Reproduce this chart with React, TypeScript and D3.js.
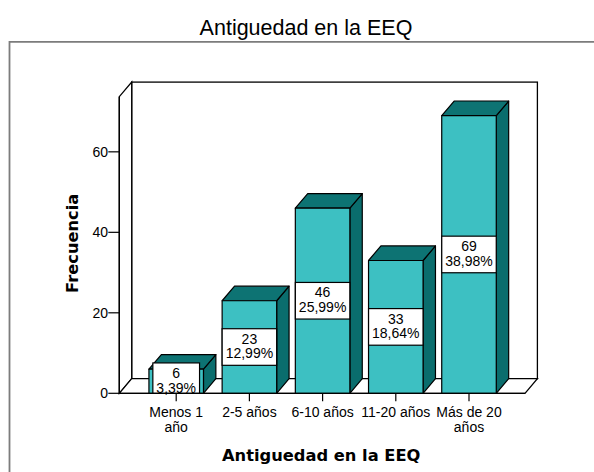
import React from "react";
import * as d3 from "d3";

// Frequency table: years of service in the EEQ
const categories = ["Menos 1 año", "2-5 años", "6-10 años", "11-20 años", "Más de 20 años"];
const categoryLines = [["Menos 1", "año"], ["2-5 años"], ["6-10 años"], ["11-20 años"], ["Más de 20", "años"]];
const counts = [6, 23, 46, 33, 69];
const yTicks = [0, 20, 40, 60];
const yMax = 73.7;

const W = 594;
const H = 472;
// depth offset of the pseudo-3D box
const DX = 12.4;
const DY = 14.6;
const plot = { left: 119.3, right: 525, top: 96.7, bottom: 393.3 };

const FRONT = "#3dc0c2";
const TOP = "#0d7373";
const SIDE = "#0a6d6d";
const LABEL_FONT = "14px 'Liberation Sans', Arial, sans-serif";

let measureCtx: CanvasRenderingContext2D | null = null;
function textWidth(s: string, font: string): number {
  if (!measureCtx) {
    const c = document.createElement("canvas");
    measureCtx = c.getContext("2d");
  }
  if (!measureCtx) return s.length * 7.5;
  measureCtx.font = font;
  return measureCtx.measureText(s).width;
}

export default function App() {
  const total = d3.sum(counts);
  const x = d3.scaleBand<string>().domain(categories).range([139.6, 505.6]);
  const y = d3.scaleLinear().domain([0, yMax]).range([plot.bottom, plot.top]);
  const barW = x.bandwidth() * 0.745;
  const pct = (v: number) => d3.format(".2f")((v / total) * 100).replace(".", ",") + "%";
  const y0 = y(0);

  const sans = "'Liberation Sans', Arial, sans-serif";
  const wide = "'DejaVu Sans', Verdana, sans-serif";

  return (
    <svg
      width={W}
      height={H}
      viewBox={`0 0 ${W} ${H}`}
      style={{ position: "absolute", left: 0, top: 0, background: "#fff" }}
    >
      {/* chart title */}
      <text x={306} y={35} textAnchor="middle" fontFamily={sans} fontSize={21.5} fill="#000">
        Antiguedad en la EEQ
      </text>

      {/* outer frame */}
      <path d={`M9.5,${H} V41.8 H${W}`} fill="none" stroke="#7c7c7c" strokeWidth={1.8} />

      {/* back wall */}
      <rect
        x={plot.left + DX}
        y={plot.top - DY}
        width={plot.right - plot.left}
        height={plot.bottom - plot.top}
        fill="#fff"
        stroke="#000"
        strokeWidth={1.3}
      />
      {/* left wall */}
      <path
        d={`M${plot.left},${plot.bottom} V${plot.top} L${plot.left + DX},${plot.top - DY} V${plot.bottom - DY} Z`}
        fill="#fff"
        stroke="#000"
        strokeWidth={1.3}
      />
      {/* floor */}
      <path
        d={`M${plot.left},${plot.bottom} H${plot.right} L${plot.right + DX},${plot.bottom - DY} H${plot.left + DX} Z`}
        fill="#fff"
        stroke="#000"
        strokeWidth={1.3}
      />

      {/* y axis ticks */}
      {yTicks.map((t) => (
        <g key={t}>
          <line x1={108.3} x2={plot.left} y1={y(t)} y2={y(t)} stroke="#000" strokeWidth={1.2} />
          <text x={108} y={y(t) + 5} textAnchor="end" fontFamily={sans} fontSize={14} fill="#000">
            {t}
          </text>
        </g>
      ))}

      {/* bars */}
      {categories.map((c, i) => {
        const cx = (x(c) ?? 0) + x.bandwidth() / 2;
        const x0 = cx - barW / 2;
        const x1 = cx + barW / 2;
        const yt = y(counts[i]);
        return (
          <g key={c} stroke="#000" strokeWidth={1.2} strokeLinejoin="round">
            <path
              d={`M${x1},${yt} L${x1 + DX},${yt - DY} V${y0 - DY} L${x1},${y0} Z`}
              fill={SIDE}
            />
            <path
              d={`M${x0},${yt} L${x0 + DX},${yt - DY} H${x1 + DX} L${x1},${yt} Z`}
              fill={TOP}
            />
            <rect x={x0} y={yt} width={barW} height={y0 - yt} fill={FRONT} />
          </g>
        );
      })}

      {/* value labels */}
      {categories.map((c, i) => {
        const cx = (x(c) ?? 0) + x.bandwidth() / 2;
        const cy = y(counts[i] / 2);
        const l1 = String(counts[i]);
        const l2 = pct(counts[i]);
        const bw = Math.max(textWidth(l1, LABEL_FONT), textWidth(l2, LABEL_FONT)) + 7;
        const top = cy - 18.3;
        const bottom = Math.min(cy + 18.3, y0);
        return (
          <g key={c}>
            <rect
              x={cx - bw / 2}
              y={top}
              width={bw}
              height={bottom - top}
              fill="#fff"
              stroke="#000"
              strokeWidth={1.2}
            />
            <text x={cx} y={cy - 3.3} textAnchor="middle" fontFamily={sans} fontSize={14} fill="#000">
              {l1}
            </text>
            <text x={cx} y={cy + 11.4} textAnchor="middle" fontFamily={sans} fontSize={14} fill="#000">
              {l2}
            </text>
          </g>
        );
      })}

      {/* front axis lines */}
      <line x1={plot.left} x2={plot.left} y1={plot.top} y2={plot.bottom} stroke="#000" strokeWidth={1.3} />
      <line x1={plot.left} x2={plot.right} y1={y0} y2={y0} stroke="#000" strokeWidth={1.3} />

      {/* category ticks and labels */}
      {categories.map((c, i) => {
        const cx = (x(c) ?? 0) + x.bandwidth() / 2;
        return (
          <g key={c}>
            <line x1={cx} x2={cx} y1={y0} y2={y0 + 8} stroke="#000" strokeWidth={1.2} />
            {categoryLines[i].map((ln, j) => (
              <text
                key={j}
                x={cx}
                y={417 + j * 14.5}
                textAnchor="middle"
                fontFamily={sans}
                fontSize={14}
                fill="#000"
              >
                {ln}
              </text>
            ))}
          </g>
        );
      })}

      {/* axis titles */}
      <text
        x={321.2}
        y={460.5}
        textAnchor="middle"
        fontFamily={wide}
        fontWeight="bold"
        fontSize={16.3}
        fill="#000"
      >
        Antiguedad en la EEQ
      </text>
      <text
        transform="translate(78,243.3) rotate(-90)"
        textAnchor="middle"
        fontFamily={wide}
        fontWeight="bold"
        fontSize={16.3}
        fill="#000"
      >
        Frecuencia
      </text>
    </svg>
  );
}
